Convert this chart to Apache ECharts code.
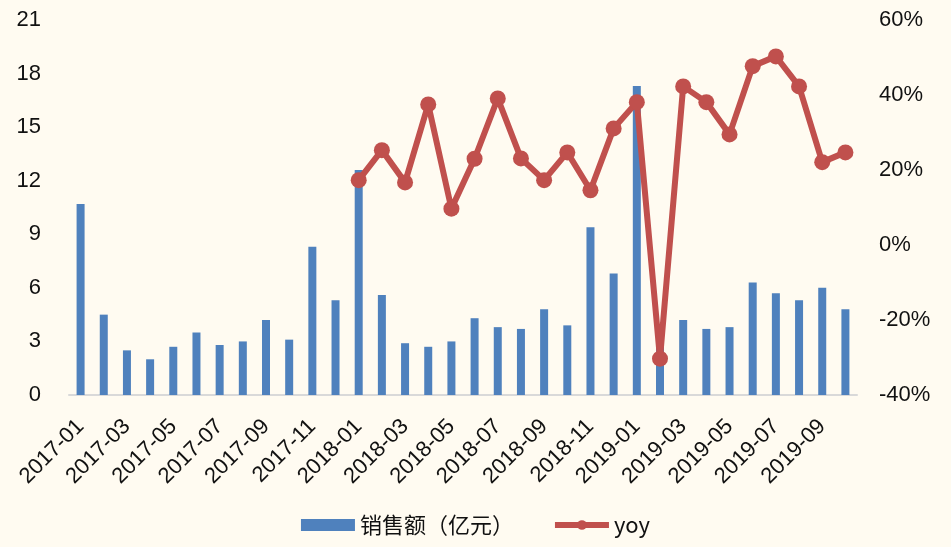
<!DOCTYPE html>
<html>
<head>
<meta charset="utf-8">
<script src="https://cdn.jsdelivr.net/npm/echarts@6/dist/echarts.min.js"></script>
<style>
  html, body { margin: 0; padding: 0; background: #FFFBF1; }
  #main { width: 951px; height: 547px; }
</style>
</head>
<body>
<div id="main"></div>
<script>
// 月份
const months = [
  "2017-01", "2017-02", "2017-03", "2017-04", "2017-05", "2017-06",
  "2017-07", "2017-08", "2017-09", "2017-10", "2017-11", "2017-12",
  "2018-01", "2018-02", "2018-03", "2018-04", "2018-05", "2018-06",
  "2018-07", "2018-08", "2018-09", "2018-10", "2018-11", "2018-12",
  "2019-01", "2019-02", "2019-03", "2019-04", "2019-05", "2019-06",
  "2019-07", "2019-08", "2019-09", "2019-10"
];
// 销售额（亿元）
const sales = [
  10.7, 4.5, 2.5, 2.0, 2.7, 3.5, 2.8, 3.0, 4.2, 3.1, 8.3, 5.3,
  12.6, 5.6, 2.9, 2.7, 3.0, 4.3, 3.8, 3.7, 4.8, 3.9, 9.4, 6.8,
  17.3, 2.8, 4.2, 3.7, 3.8, 6.3, 5.7, 5.3, 6.0, 4.8
];
// yoy (%)，2018-01 起
const yoy = [
  null, null, null, null, null, null, null, null, null, null, null, null,
  17.3, 25.3, 16.7, 37.5, 9.7, 23.0, 39.1, 23.1, 17.3, 24.7, 14.6, 31.1,
  38.1, -30.3, 42.3, 38.1, 29.5, 47.7, 50.3, 42.3, 22.1, 24.7
];
const leftTicks = { min: 0, max: 21, interval: 3 };
const rightTicks = { min: -40, max: 60, interval: 20 };

const chart = echarts.init(document.getElementById("main"));
const font = "Liberation Sans, Arial, sans-serif";

chart.setOption({
  backgroundColor: "#FFFBF1",
  animation: false,
  textStyle: { fontFamily: font },
  grid: { left: 69, right: 94, top: 20, bottom: 152 },
  legend: {
    bottom: 6,
    left: "center",
    itemGap: 38,
    itemWidth: 54,
    itemHeight: 12,
    textStyle: { fontSize: 22, color: "#111", fontFamily: "Noto Sans CJK SC, " + font },
    data: [
      { name: "销售额（亿元）", icon: "rect" },
      { name: "yoy", lineStyle: { width: 6 } }
    ]
  },
  xAxis: {
    type: "category",
    data: months,
    boundaryGap: true,
    axisLine: { lineStyle: { color: "#D9D9D9", width: 2 } },
    axisTick: { show: false },
    axisLabel: {
      interval: 1,
      rotate: 45,
      fontSize: 22,
      color: "#111",
      margin: 28
    }
  },
  yAxis: [
    {
      type: "value",
      min: leftTicks.min,
      max: leftTicks.max,
      interval: leftTicks.interval,
      splitLine: { show: false },
      axisLine: { show: false },
      axisTick: { show: false },
      axisLabel: { fontSize: 22, color: "#111", margin: 28 }
    },
    {
      type: "value",
      min: rightTicks.min,
      max: rightTicks.max,
      interval: rightTicks.interval,
      splitLine: { show: false },
      axisLine: { show: false },
      axisTick: { show: false },
      axisLabel: { fontSize: 22, color: "#111", margin: 22, formatter: "{value}%" }
    }
  ],
  series: [
    {
      name: "销售额（亿元）",
      type: "bar",
      data: sales,
      barWidth: 8,
      itemStyle: { color: "#4F81BD" }
    },
    {
      name: "yoy",
      type: "line",
      yAxisIndex: 1,
      data: yoy,
      symbol: "circle",
      symbolSize: 16,
      showAllSymbol: true,
      lineStyle: { color: "#C0504D", width: 6 },
      itemStyle: { color: "#C0504D" }
    }
  ]
});
</script>
</body>
</html>
